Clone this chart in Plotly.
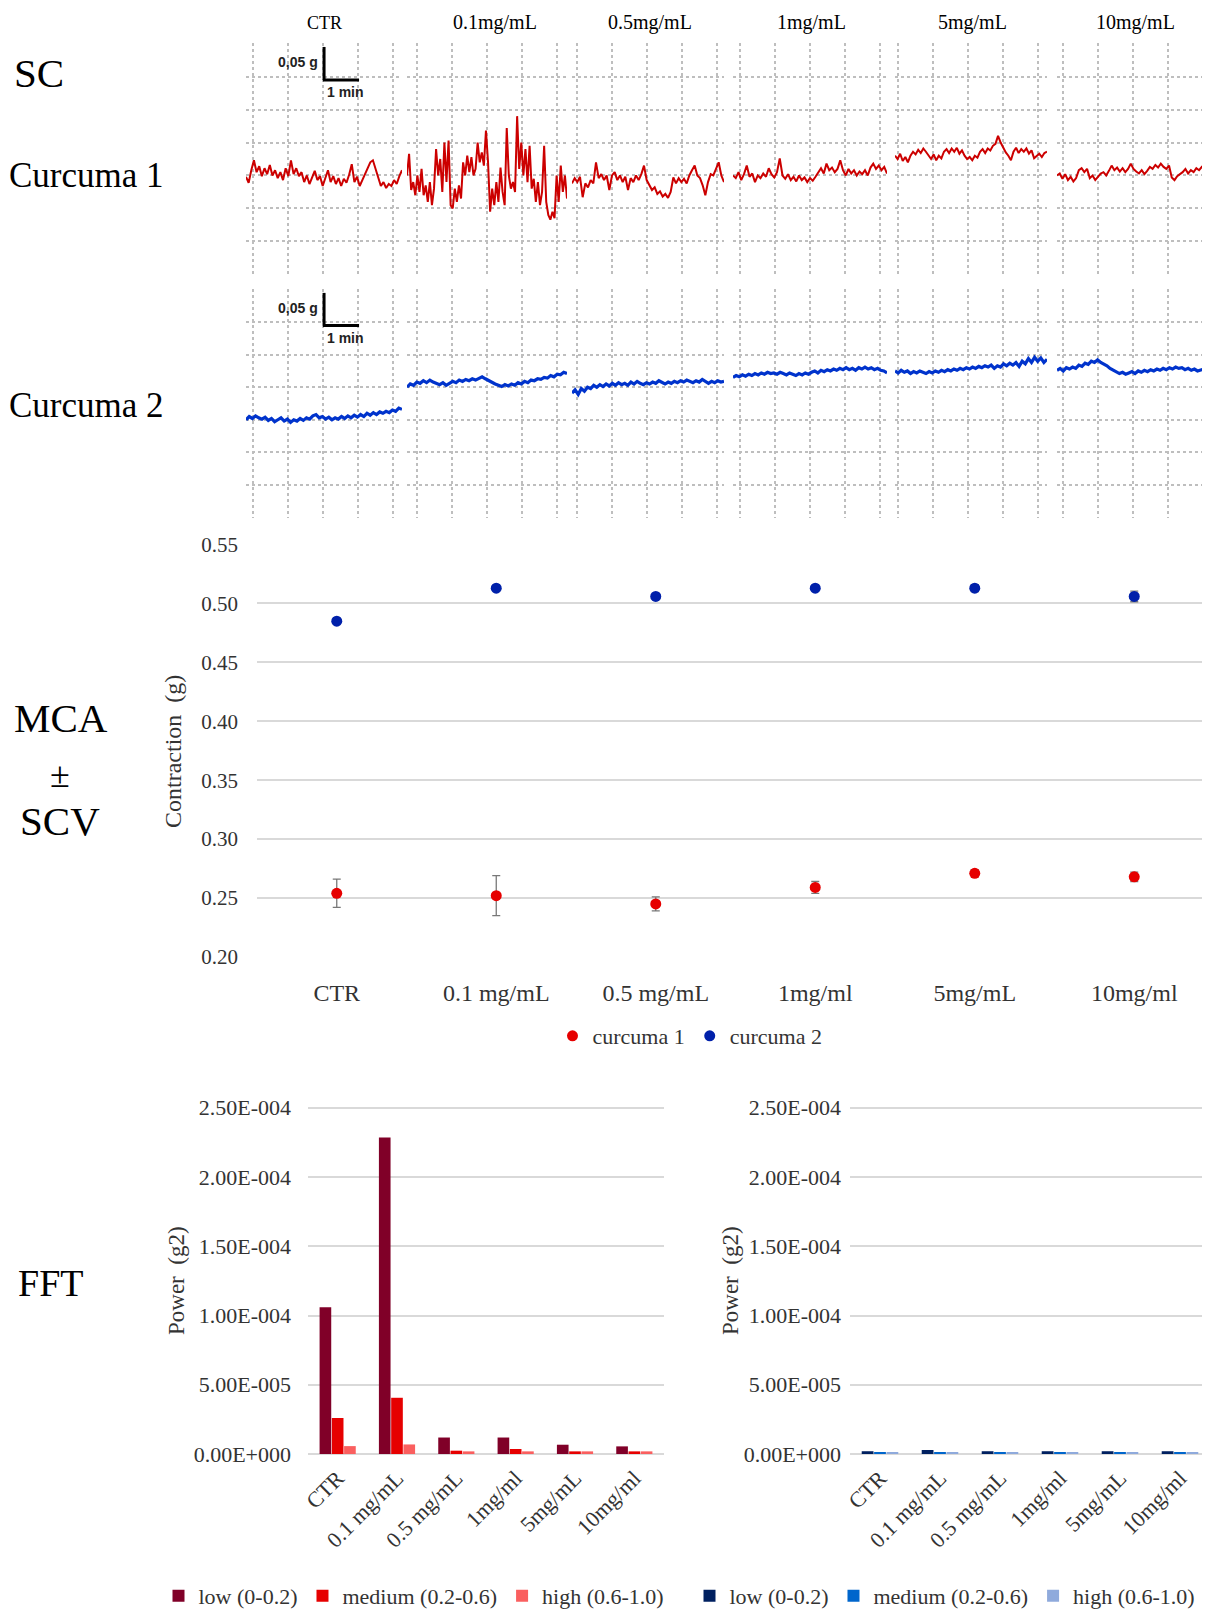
import numpy as np
import plotly.graph_objects as go

# figure fills the window; the browser adds its 8 px body margin, compensated in px()/py()
W, H = 1210, 1609
OFF = 8


def px(x):
    return min(max((x - OFF) / W, 0.0), 1.0)


def py(y):
    return min(max(1 - (y - OFF) / H, 0.0), 1.0)


# ------------------------------------------------------------------ data
trace_headers = ["CTR", "0.1mg/mL", "0.5mg/mL", "1mg/mL", "5mg/mL", "10mg/mL"]

# spontaneous contraction traces, tension in g
red_ctr = [0.148, 0.139, 0.158, 0.173, 0.155, 0.164, 0.149, 0.161, 0.152, 0.166, 0.150, 0.158, 0.146, 0.155, 0.143,
           0.161, 0.149, 0.173, 0.152, 0.161, 0.149, 0.155, 0.140, 0.150, 0.137, 0.146, 0.157, 0.143, 0.149, 0.134,
           0.148, 0.158, 0.140, 0.149, 0.137, 0.146, 0.134, 0.145, 0.139, 0.151, 0.167, 0.140, 0.148, 0.134, 0.143,
           0.152, 0.161, 0.170, 0.173, 0.161, 0.146, 0.134, 0.140, 0.131, 0.137, 0.134, 0.143, 0.137, 0.149, 0.158]
red_01 = [0.150, 0.183, 0.128, 0.140, 0.120, 0.150, 0.125, 0.160, 0.120, 0.135, 0.110, 0.140, 0.105, 0.130, 0.190,
          0.150, 0.175, 0.125, 0.200, 0.140, 0.203, 0.105, 0.100, 0.130, 0.110, 0.135, 0.115, 0.170, 0.150, 0.180,
          0.155, 0.178, 0.150, 0.160, 0.200, 0.170, 0.185, 0.165, 0.218, 0.170, 0.095, 0.130, 0.105, 0.140, 0.110,
          0.162, 0.125, 0.105, 0.222, 0.150, 0.130, 0.140, 0.125, 0.240, 0.160, 0.200, 0.150, 0.190, 0.140, 0.195,
          0.130, 0.145, 0.110, 0.140, 0.105, 0.125, 0.195, 0.110, 0.090, 0.083, 0.095, 0.085, 0.150, 0.110, 0.165,
          0.125, 0.150, 0.115]
red_05 = [0.138, 0.146, 0.140, 0.148, 0.117, 0.138, 0.132, 0.143, 0.138, 0.170, 0.146, 0.152, 0.143, 0.150, 0.128,
          0.150, 0.155, 0.143, 0.150, 0.140, 0.148, 0.128, 0.146, 0.140, 0.150, 0.143, 0.152, 0.165, 0.143, 0.135,
          0.128, 0.132, 0.122, 0.126, 0.118, 0.122, 0.116, 0.125, 0.147, 0.138, 0.146, 0.140, 0.145, 0.138, 0.150,
          0.158, 0.165, 0.150, 0.146, 0.135, 0.120, 0.140, 0.152, 0.150, 0.160, 0.170, 0.150, 0.140]
red_1 = [0.150, 0.146, 0.155, 0.143, 0.152, 0.165, 0.148, 0.153, 0.140, 0.150, 0.146, 0.153, 0.148, 0.161, 0.152,
         0.147, 0.155, 0.176, 0.150, 0.145, 0.152, 0.143, 0.148, 0.141, 0.150, 0.143, 0.147, 0.140, 0.146, 0.142,
         0.148, 0.155, 0.161, 0.153, 0.168, 0.158, 0.162, 0.155, 0.160, 0.173, 0.158, 0.150, 0.160, 0.153, 0.158,
         0.150, 0.156, 0.152, 0.158, 0.150, 0.162, 0.168, 0.160, 0.165, 0.158, 0.163, 0.153]
red_5 = [0.180, 0.175, 0.183, 0.172, 0.178, 0.170, 0.180, 0.186, 0.182, 0.189, 0.184, 0.191, 0.186, 0.180, 0.175,
         0.182, 0.173, 0.180, 0.176, 0.186, 0.190, 0.184, 0.191, 0.186, 0.192, 0.183, 0.188, 0.180, 0.175, 0.178,
         0.173, 0.180, 0.177, 0.186, 0.190, 0.184, 0.191, 0.188, 0.195, 0.198, 0.210, 0.200, 0.192, 0.185, 0.180,
         0.173, 0.186, 0.192, 0.184, 0.190, 0.186, 0.191, 0.183, 0.188, 0.176, 0.180, 0.183, 0.178, 0.184, 0.186]
red_10 = [0.150, 0.153, 0.145, 0.152, 0.143, 0.148, 0.141, 0.146, 0.158, 0.161, 0.155, 0.160, 0.146, 0.150, 0.143,
          0.148, 0.153, 0.155, 0.150, 0.157, 0.165, 0.158, 0.162, 0.156, 0.161, 0.155, 0.160, 0.168, 0.160, 0.156,
          0.153, 0.158, 0.152, 0.157, 0.163, 0.160, 0.166, 0.162, 0.168, 0.163, 0.160, 0.165, 0.147, 0.143, 0.149,
          0.152, 0.155, 0.160, 0.153, 0.158, 0.155, 0.161, 0.158, 0.163, 0.160, 0.165, 0.163]

blue_ctr = [0.150, 0.155, 0.152, 0.156, 0.153, 0.151, 0.154, 0.149, 0.152, 0.147, 0.150, 0.153, 0.148, 0.151, 0.146,
            0.150, 0.148, 0.152, 0.149, 0.153, 0.151, 0.156, 0.158, 0.153, 0.155, 0.151, 0.154, 0.150, 0.153, 0.151,
            0.155, 0.152, 0.156, 0.153, 0.157, 0.154, 0.158, 0.155, 0.160, 0.157, 0.161, 0.158, 0.162, 0.160, 0.163,
            0.161, 0.165, 0.163, 0.168, 0.166]
blue_01 = [0.200, 0.205, 0.203, 0.208, 0.206, 0.210, 0.207, 0.211, 0.208, 0.206, 0.204, 0.207, 0.203, 0.206, 0.209,
           0.207, 0.211, 0.209, 0.212, 0.210, 0.213, 0.211, 0.214, 0.216, 0.213, 0.210, 0.207, 0.205, 0.203, 0.201,
           0.204, 0.202, 0.205, 0.203, 0.207, 0.205, 0.209, 0.207, 0.211, 0.210, 0.213, 0.212, 0.215, 0.214, 0.218,
           0.216, 0.220, 0.219, 0.223, 0.221]
blue_05 = [0.191, 0.196, 0.189, 0.198, 0.194, 0.200, 0.198, 0.203, 0.200, 0.204, 0.201, 0.205, 0.202, 0.206, 0.203,
           0.207, 0.204, 0.206, 0.203, 0.208, 0.205, 0.209, 0.206, 0.204, 0.207, 0.205, 0.208, 0.206, 0.210, 0.207,
           0.205, 0.208, 0.206, 0.209, 0.207, 0.210, 0.208, 0.211, 0.209, 0.207, 0.210, 0.208, 0.212, 0.209, 0.206,
           0.209, 0.207, 0.210, 0.208, 0.209]
blue_1 = [0.215, 0.218, 0.216, 0.219, 0.217, 0.220, 0.218, 0.221, 0.219, 0.222, 0.220, 0.223, 0.221, 0.222, 0.220,
          0.223, 0.221, 0.219, 0.222, 0.220, 0.218, 0.221, 0.219, 0.222, 0.220, 0.223, 0.225, 0.222, 0.226, 0.224,
          0.227, 0.225, 0.228, 0.226, 0.229, 0.227, 0.230, 0.227, 0.229, 0.226, 0.230, 0.228, 0.231, 0.228, 0.230,
          0.227, 0.229, 0.226, 0.225, 0.222]
blue_5 = [0.225, 0.222, 0.226, 0.223, 0.225, 0.221, 0.224, 0.222, 0.225, 0.223, 0.221, 0.224, 0.222, 0.225, 0.223,
          0.226, 0.224, 0.227, 0.225, 0.228, 0.226, 0.229, 0.227, 0.230, 0.228, 0.231, 0.229, 0.232, 0.230, 0.233,
          0.231, 0.234, 0.229, 0.233, 0.231, 0.236, 0.233, 0.237, 0.234, 0.238, 0.232, 0.240, 0.236, 0.244, 0.238,
          0.246, 0.240, 0.245, 0.238, 0.243]
blue_10 = [0.226, 0.229, 0.225, 0.230, 0.228, 0.231, 0.229, 0.234, 0.232, 0.237, 0.235, 0.240, 0.238, 0.242, 0.238,
           0.236, 0.233, 0.229, 0.226, 0.224, 0.221, 0.223, 0.220, 0.222, 0.224, 0.221, 0.225, 0.223, 0.226, 0.224,
           0.227, 0.225, 0.228, 0.226, 0.229, 0.227, 0.230, 0.228, 0.231, 0.229, 0.230, 0.227, 0.229, 0.226, 0.228,
           0.225, 0.227, 0.228, 0.226, 0.229]

# mean contraction amplitude +- standard error
doses = ["CTR", "0.1 mg/mL", "0.5 mg/mL", "1mg/ml", "5mg/mL", "10mg/ml"]
mca_curcuma1 = [0.254, 0.252, 0.245, 0.259, 0.271, 0.268]
scv_curcuma1 = [0.012, 0.017, 0.006, 0.005, 0.003, 0.004]
mca_curcuma2 = [0.485, 0.513, 0.506, 0.513, 0.513, 0.506]
scv_curcuma2 = [0.002, 0.002, 0.002, 0.002, 0.003, 0.0045]

# FFT power (g2)
fft1_low = [1.06e-4, 2.285e-4, 1.19e-5, 1.19e-5, 6.7e-6, 5.5e-6]
fft1_medium = [2.6e-5, 4.06e-5, 2.4e-6, 3.6e-6, 1.9e-6, 1.9e-6]
fft1_high = [5.7e-6, 6.9e-6, 1.9e-6, 1.9e-6, 1.9e-6, 1.9e-6]
fft2_low = [2.0e-6, 2.9e-6, 2.0e-6, 2.0e-6, 2.0e-6, 2.0e-6]
fft2_medium = [1.0e-6, 1.0e-6, 1.0e-6, 1.0e-6, 1.0e-6, 1.0e-6]
fft2_high = [1.0e-6, 1.0e-6, 1.0e-6, 1.0e-6, 1.0e-6, 1.0e-6]

mca_ticks = [0.20, 0.25, 0.30, 0.35, 0.40, 0.45, 0.50, 0.55]
fft_tickvals = [0, 5e-5, 1e-4, 1.5e-4, 2e-4, 2.5e-4]
fft_ticktext = ["0.00E+000", "5.00E-005", "1.00E-004", "1.50E-004", "2.00E-004", "2.50E-004"]
band_names = ["low (0-0.2)", "medium (0.2-0.6)", "high (0.6-1.0)"]

# ------------------------------------------------------------------ style
SERIF = "Liberation Serif"
SANS = "Liberation Sans"
DOT_GRID = "rgb(190,190,190)"
GRID = "rgb(217,217,217)"
RED_TRACE = "rgb(204,0,0)"
BLUE_TRACE = "rgb(0,51,204)"
TXT = "#333"

fig = go.Figure()
layout = {}

# ------------------------------------------------------------------ trace panels
panels = [(246, 402, 253), (407, 567, 417), (572, 724, 577),
          (733, 887, 740), (895, 1047, 898), (1057, 1210, 1063)]
rows = [(43, 275), (289, 518)]
PPM = 35.0  # pixels per minute
row_series = [[red_ctr, red_01, red_05, red_1, red_5, red_10],
              [blue_ctr, blue_01, blue_05, blue_1, blue_5, blue_10]]
row_colors = [RED_TRACE, BLUE_TRACE]
row_widths = [2.0, 3.2]


def ax(k):
    return "" if k == 1 else str(k)


k = 0
for r, (yt, yb) in enumerate(rows):
    for i, (x0, x1, g0) in enumerate(panels):
        k += 1
        span = (x1 - x0) / PPM
        layout["xaxis" + ax(k)] = dict(domain=[px(x0), px(x1)], range=[0, span], anchor="y" + ax(k),
                                       showgrid=True, gridcolor=DOT_GRID, griddash="dot", gridwidth=1.5,
                                       tick0=(g0 - x0) / PPM, dtick=1, showticklabels=False,
                                       zeroline=False, showline=False, ticks="")
        layout["yaxis" + ax(k)] = dict(domain=[py(yb), py(yt)], range=[-0.001, 0.351], anchor="x" + ax(k),
                                       showgrid=True, gridcolor=DOT_GRID, griddash="dot", gridwidth=1.5,
                                       tick0=0, dtick=0.05, showticklabels=False,
                                       zeroline=False, showline=False, ticks="")
        vals = row_series[r][i]
        t = np.linspace(0, span, len(vals))
        fig.add_trace(go.Scatter(x=t, y=vals, xaxis="x" + ax(k), yaxis="y" + ax(k), mode="lines",
                                 line=dict(color=row_colors[r], width=row_widths[r]),
                                 showlegend=False, hoverinfo="skip"))

shapes = []
annotations = []
# scale bars (0.05 g / 1 min) in first panel of each row
for kk in (1, 7):
    xr, yr = "x" + ax(kk), "y" + ax(kk)
    xb, yb0 = 2.23, 0.295
    shapes.append(dict(type="line", xref=xr, yref=yr, x0=xb, x1=xb, y0=yb0, y1=yb0 + 0.05,
                       line=dict(color="black", width=3)))
    shapes.append(dict(type="line", xref=xr, yref=yr, x0=xb - 0.03, x1=xb + 1.0, y0=yb0, y1=yb0,
                       line=dict(color="black", width=3)))
    annotations.append(dict(xref=xr, yref=yr, x=xb - 0.12, y=yb0 + 0.027, text="<b>0,05 g</b>",
                            showarrow=False, xanchor="right", yanchor="middle",
                            font=dict(family=SANS, size=14, color="#222")))
    annotations.append(dict(xref=xr, yref=yr, x=xb + 0.62, y=yb0 - 0.019, text="<b>1 min</b>",
                            showarrow=False, xanchor="center", yanchor="middle",
                            font=dict(family=SANS, size=14, color="#222")))

header_x = [324, 495, 650, 811, 972, 1135]
for hx, txt in zip(header_x, trace_headers):
    annotations.append(dict(xref="paper", yref="paper", x=px(hx), y=py(23), text=txt, showarrow=False,
                            xanchor="center", yanchor="middle",
                            font=dict(family=SERIF, size=18 if txt == "CTR" else 20, color="black")))

side_labels = [("SC", 39, 73, 41), ("Curcuma 1", 86, 175, 35), ("Curcuma 2", 86, 405, 35),
               ("MCA", 61, 718, 41), ("±", 60, 775, 36), ("SCV", 60, 821, 41), ("FFT", 50, 1283, 38)]
for txt, lx, ly, fs in side_labels:
    annotations.append(dict(xref="paper", yref="paper", x=px(lx), y=py(ly), text=txt, showarrow=False,
                            xanchor="center", yanchor="middle",
                            font=dict(family=SERIF, size=fs, color="black")))

# ------------------------------------------------------------------ MCA scatter
SPC = 159.5  # px per category
x_hi = -0.5 + ((1 - px(257)) * W) / SPC
layout["xaxis13"] = dict(domain=[px(257), 1.0], range=[-0.5, x_hi], anchor="y13", type="category",
                         showgrid=False, zeroline=False, showline=False, ticks="",
                         tickfont=dict(family=SERIF, size=24, color=TXT), ticklabelstandoff=18)
layout["yaxis13"] = dict(domain=[py(957.5), py(544)], range=[0.1995, 0.5505], anchor="x13",
                         tickvals=mca_ticks, tickformat=".2f", showgrid=True, gridcolor=GRID, gridwidth=1.5,
                         zeroline=False, showline=False, ticks="",
                         tickfont=dict(family=SERIF, size=21, color=TXT), ticklabelstandoff=18)
fig.add_trace(go.Scatter(x=doses, y=mca_curcuma1, name="curcuma 1", mode="markers", xaxis="x13", yaxis="y13",
                         marker=dict(color="rgb(230,0,0)", size=11),
                         error_y=dict(type="data", array=scv_curcuma1, color="rgb(120,120,120)",
                                      thickness=1.3, width=4),
                         legend="legend"))
fig.add_trace(go.Scatter(x=doses, y=mca_curcuma2, name="curcuma 2", mode="markers", xaxis="x13", yaxis="y13",
                         marker=dict(color="rgb(0,32,170)", size=11),
                         error_y=dict(type="data", array=scv_curcuma2, color="rgb(120,120,120)",
                                      thickness=1.3, width=4),
                         legend="legend"))
annotations.append(dict(xref="paper", yref="paper", x=px(173), y=py(752), text="Contraction  (g)",
                        textangle=-90, showarrow=False, xanchor="center", yanchor="middle",
                        font=dict(family=SERIF, size=24, color=TXT)))

# ------------------------------------------------------------------ FFT bars
fft_sets = [
    (14, (308, 664), 292, [fft1_low, fft1_medium, fft1_high],
     ["rgb(128,0,40)", "rgb(230,0,0)", "rgb(250,95,95)"], "legend2", 176),
    (15, (850, 1210), 842, [fft2_low, fft2_medium, fft2_high],
     ["rgb(0,32,96)", "rgb(0,102,204)", "rgb(143,170,220)"], "legend3", 730),
]
for kk, (xl, xr_), tick_right, series, colors, lg, title_x in fft_sets:
    layout["xaxis%d" % kk] = dict(domain=[px(xl), px(xr_)], anchor="y%d" % kk, type="category",
                                  showgrid=False, zeroline=False, showline=False, ticks="",
                                  tickangle=-45, tickfont=dict(family=SERIF, size=22, color=TXT),
                                  ticklabelstandoff=6)
    layout["yaxis%d" % kk] = dict(domain=[py(1454), py(1105)], range=[0, 2.52e-4], anchor="x%d" % kk,
                                  tickvals=fft_tickvals, ticktext=fft_ticktext, showgrid=True, gridcolor=GRID,
                                  gridwidth=1.5, zeroline=True, zerolinecolor=GRID, zerolinewidth=1.5,
                                  showline=False, ticks="",
                                  tickfont=dict(family=SERIF, size=22, color=TXT),
                                  ticklabelstandoff=int(xl - tick_right))
    for vals, col, nm in zip(series, colors, band_names):
        fig.add_trace(go.Bar(x=doses, y=vals, name=nm, marker=dict(color=col, line=dict(width=0)),
                             xaxis="x%d" % kk, yaxis="y%d" % kk, legend=lg))
    annotations.append(dict(xref="paper", yref="paper", x=px(title_x), y=py(1281), text="Power  (g2)",
                            textangle=-90, showarrow=False, xanchor="center", yanchor="middle",
                            font=dict(family=SERIF, size=23, color=TXT)))

LEG_FONT = dict(family=SERIF, size=22, color=TXT)
fig.update_layout(
    **layout,
    width=W, height=H,
    margin=dict(l=0, r=0, t=0, b=0),
    paper_bgcolor="white", plot_bgcolor="white",
    template="none",
    barmode="group", bargap=0.38, bargroupgap=0.05,
    shapes=shapes, annotations=annotations,
    legend=dict(orientation="h", x=px(690), y=py(1036), xanchor="center", yanchor="middle",
                font=LEG_FONT, bgcolor="rgba(0,0,0,0)"),
    legend2=dict(orientation="h", x=px(414), y=0.0, xanchor="center", yanchor="bottom",
                 font=LEG_FONT, bgcolor="rgba(0,0,0,0)", itemwidth=30),
    legend3=dict(orientation="h", x=px(945), y=0.0, xanchor="center", yanchor="bottom",
                 font=LEG_FONT, bgcolor="rgba(0,0,0,0)", itemwidth=30),
    showlegend=True,
)

fig.write_html("out.html", config={"displayModeBar": False})
